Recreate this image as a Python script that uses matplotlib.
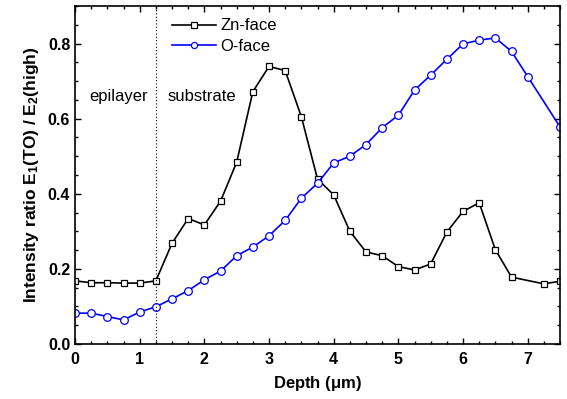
import matplotlib
matplotlib.use("Agg")
import matplotlib.pyplot as plt
from matplotlib.ticker import MultipleLocator

plt.rcParams['font.family'] = ['Liberation Sans', 'DejaVu Sans']
plt.rcParams['mathtext.fontset'] = 'custom'
plt.rcParams['mathtext.rm'] = 'Liberation Sans'
plt.rcParams['mathtext.bf'] = 'Liberation Sans:bold'
plt.rcParams['mathtext.default'] = 'bf'

# depth (um) and ratio values
zn_depth = [0, 0.25, 0.5, 0.75, 1.0, 1.25, 1.5, 1.75, 2.0, 2.25, 2.5, 2.75, 3.0, 3.25,
            3.5, 3.75, 4.0, 4.25, 4.5, 4.75, 5.0, 5.25, 5.5, 5.75, 6.0, 6.25, 6.5, 6.75,
            7.25, 7.5]
zn_ratio = [0.168, 0.163, 0.163, 0.162, 0.162, 0.168, 0.268, 0.334, 0.317, 0.380, 0.484,
            0.672, 0.739, 0.728, 0.605, 0.439, 0.397, 0.300, 0.245, 0.235, 0.206, 0.197,
            0.213, 0.298, 0.353, 0.376, 0.251, 0.178, 0.160, 0.167]

o_depth = [0, 0.25, 0.5, 0.75, 1.0, 1.25, 1.5, 1.75, 2.0, 2.25, 2.5, 2.75, 3.0, 3.25,
           3.5, 3.75, 4.0, 4.25, 4.5, 4.75, 5.0, 5.25, 5.5, 5.75, 6.0, 6.25, 6.5, 6.75,
           7.0, 7.5]
o_ratio = [0.082, 0.082, 0.073, 0.064, 0.085, 0.099, 0.120, 0.142, 0.171, 0.194, 0.235,
           0.258, 0.288, 0.329, 0.388, 0.428, 0.482, 0.500, 0.531, 0.576, 0.609, 0.676,
           0.716, 0.758, 0.799, 0.809, 0.815, 0.779, 0.712, 0.578]

interface = 1.25

fig = plt.figure(figsize=(5.67, 3.99), dpi=100)
ax = fig.add_axes([0.1323, 0.138, 0.8554, 0.847])

ax.plot(zn_depth, zn_ratio, color='black', lw=1.2, marker='s', ms=5,
        mfc='white', mec='black', mew=0.9, label='Zn-face')
ax.plot(o_depth, o_ratio, color='blue', lw=1.2, marker='o', ms=5.5,
        mfc='white', mec='blue', mew=0.9, label='O-face')

ax.axvline(interface, color='black', ls=(0, (1, 2)), lw=0.8)
ax.text(0.68, 0.66, 'epilayer', fontsize=12, ha='center', va='center')
ax.text(1.43, 0.66, 'substrate', fontsize=12, ha='left', va='center')

ax.set_xlim(0, 7.5)
ax.set_ylim(0, 0.9)
ax.xaxis.set_major_locator(MultipleLocator(1))
ax.xaxis.set_minor_locator(MultipleLocator(0.25))
ax.yaxis.set_major_locator(MultipleLocator(0.2))
ax.yaxis.set_minor_locator(MultipleLocator(0.05))
ax.tick_params(which='both', direction='in', top=True, right=True, width=1)
ax.tick_params(which='major', length=4, labelsize=11.5)
ax.tick_params(axis='x', which='major', pad=6)
ax.tick_params(which='minor', length=2)
for lab in ax.get_xticklabels() + ax.get_yticklabels():
    lab.set_fontweight('bold')
for sp in ax.spines.values():
    sp.set_linewidth(1.2)

ax.set_xlabel('Depth ($\\mathregular{\\mu}$m)', fontsize=12, fontweight='bold', labelpad=5)
ax.set_ylabel('Intensity ratio E$_1$(TO) / E$_2$(high)', fontsize=12.5,
              fontweight='bold', labelpad=5)

ax.legend(loc='upper left', bbox_to_anchor=(0.175, 1.0), frameon=False, fontsize=12,
          handlelength=2.6, handletextpad=0.3, borderaxespad=0.35, labelspacing=0.35,
          markerscale=0.8)

fig.savefig('out.png', dpi=100)
